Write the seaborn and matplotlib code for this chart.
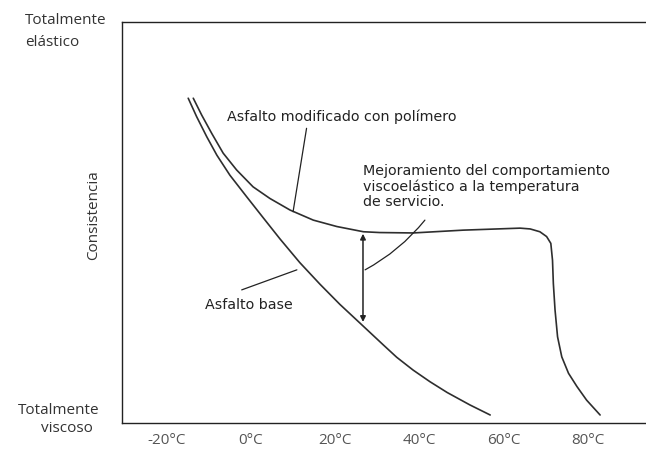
import numpy as np
import pandas as pd
import matplotlib
matplotlib.use("Agg")
import matplotlib.pyplot as plt
import seaborn as sns

# temperature (°C) and consistency (0 = totalmente viscoso, 100 = totalmente elástico)
base_temp = [-14.9, -12.9, -10.5, -8.1, -5.0, -1.0, 2.9, 6.9, 11.6, 16.4, 21.1,
             25.9, 31.4, 34.6, 38.5, 42.5, 46.6, 52.0, 56.8]
base_cons = [81.0, 76.4, 71.4, 66.8, 61.8, 56.4, 51.2, 45.9, 40.0, 34.6, 29.6,
             24.9, 19.5, 16.4, 13.2, 10.3, 7.6, 4.5, 2.0]

mod_temp = [-13.7, -11.7, -9.3, -6.6, -3.4, 0.5, 4.5, 9.3, 14.8, 20.4, 26.7,
            30.6, 38.5, 50.4, 63.9, 66.3, 68.6, 70.2, 71.2, 71.6, 71.8, 72.2,
            72.8, 73.8, 75.4, 77.4, 79.7, 82.9]
mod_cons = [81.0, 76.8, 72.2, 67.3, 63.1, 58.9, 56.0, 53.1, 50.6, 49.0, 47.7,
            47.5, 47.4, 48.1, 48.6, 48.4, 47.7, 46.5, 44.8, 40.6, 34.8, 28.2,
            21.5, 16.5, 12.4, 9.1, 5.7, 2.0]

tick_temps = [-20, 0, 20, 40, 60, 80]
tick_labels = ["-20°C", "0°C", "20°C", "40°C", "60°C", "80°C"]

base = pd.DataFrame({"temp": base_temp, "cons": base_cons})
mod = pd.DataFrame({"temp": mod_temp, "cons": mod_cons})

sns.set_style("white")
plt.rcParams["font.family"] = ["DejaVu Sans"]

fig = plt.figure(figsize=(6.46, 4.5), dpi=100)
ax = fig.add_axes([0.189, 0.06, 0.811, 0.891])

line_col = "#2e2e2e"
sns.lineplot(x="temp", y="cons", data=base, color=line_col, linewidth=1.2, ax=ax)
sns.lineplot(x="temp", y="cons", data=mod, color=line_col, linewidth=1.2, ax=ax)

ax.set_xlim(-30.6, 93.8)
ax.set_ylim(0, 100)
ax.set_xticks(tick_temps)
ax.set_xticklabels(tick_labels, family="Open Sans", size=11, color="#333333")
ax.set_yticks([])
ax.tick_params(axis="x", length=2, width=0.8, pad=5, colors="#555555")
ax.set_xlabel("")
ax.set_ylabel("")
for side in ["left", "bottom", "top"]:
    ax.spines[side].set_color("#222222")
    ax.spines[side].set_linewidth(1.0)
ax.spines["right"].set_visible(False)

# double arrow: improvement at service temperature
ax.annotate("", xy=(26.6, 25.2), xytext=(26.6, 47.2),
            arrowprops=dict(arrowstyle="<|-|>", color="#222222", lw=1.1,
                            mutation_scale=8, shrinkA=0, shrinkB=0))

txt = dict(size=10.3, color="#222222")
pointer = dict(arrowstyle="-", color="#222222", lw=0.9, shrinkA=0, shrinkB=0)

ax.text(-5.7, 76.3, "Asfalto modificado con polímero", va="center", ha="left", **txt)
ax.annotate("", xy=(10.0, 52.7), xytext=(13.2, 73.5), arrowprops=pointer)

ax.text(26.6, 58.9, "Mejoramiento del comportamiento\nviscoelástico a la temperatura\nde servicio.",
        va="center", ha="left", linespacing=1.12, **txt)
ax.annotate("", xy=(27.1, 38.2), xytext=(41.3, 50.6),
            arrowprops=dict(pointer, connectionstyle="arc3,rad=-0.1"))

ax.text(-10.9, 29.4, "Asfalto base", va="center", ha="left", **txt)
ax.annotate("", xy=(10.9, 38.2), xytext=(-2.2, 33.2), arrowprops=pointer)

lab = dict(family="Open Sans", size=11, color="#333333")
fig.text(25 / 646, 1 - 20 / 450, "Totalmente", ha="left", va="center", **lab)
fig.text(25 / 646, 1 - 42 / 450, "elástico", ha="left", va="center", **lab)
fig.text(100 / 646, 1 - 410 / 450, "Totalmente", ha="right", va="center", **lab)
fig.text(93 / 646, 1 - 428 / 450, "viscoso", ha="right", va="center", **lab)
fig.text(94 / 646, 1 - 215 / 450, "Consistencia", ha="center", va="center",
         rotation=90, **lab)

plt.savefig("out.png", dpi=100)
